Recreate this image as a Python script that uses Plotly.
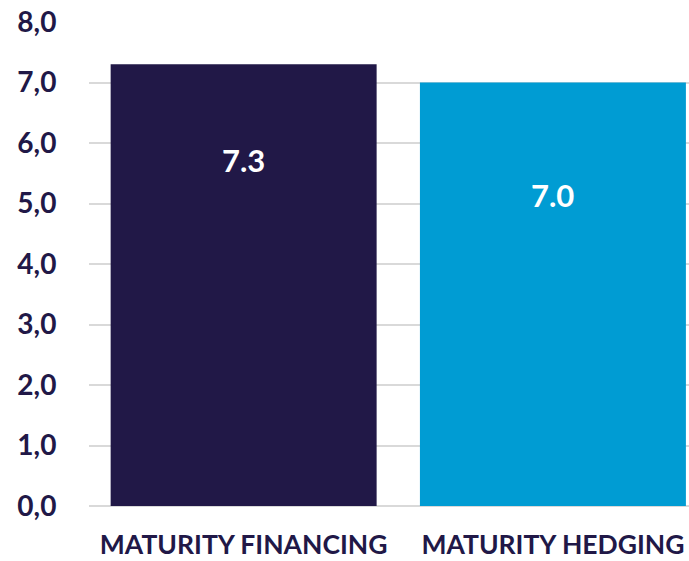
import plotly.graph_objects as go

# Average maturity (years) of financing vs. hedging
categories = ["MATURITY FINANCING", "MATURITY HEDGING"]
values = [7.3, 7.0]
bar_colors = ["#211847", "#009CD3"]
tick_vals = [0, 1, 2, 3, 4, 5, 6, 7, 8]
tick_text = ["0,0", "1,0", "2,0", "3,0", "4,0", "5,0", "6,0", "7,0", "8,0"]
label_drop = [1.58, 1.86]  # how far below each bar top its value label sits

NAVY = "#211847"
FONT = "Lato"
WEIGHT = "bold"

fig = go.Figure(
    go.Bar(
        x=categories,
        y=values,
        marker=dict(color=bar_colors, line=dict(width=0)),
        hoverinfo="skip",
    )
)

for cat, v, d in zip(categories, values, label_drop):
    fig.add_annotation(
        x=cat,
        y=v - d,
        text=f"{v:.1f}",
        showarrow=False,
        font=dict(family=FONT, size=31, color="white", weight=WEIGHT),
        xanchor="center",
        yanchor="middle",
    )

fig.update_layout(
    width=689,
    height=561,
    margin=dict(l=89, r=0, t=22, b=55),
    paper_bgcolor="white",
    plot_bgcolor="white",
    bargap=0.14,
    showlegend=False,
    font=dict(family=FONT, color=NAVY),
    xaxis=dict(
        range=[-0.5, 1.44],
        automargin=False,
        showgrid=False,
        showline=False,
        zeroline=False,
        ticks="outside",
        ticklen=15,
        tickcolor="rgba(0,0,0,0)",
        tickfont=dict(family=FONT, size=26.5, color=NAVY, weight=WEIGHT),
    ),
    yaxis=dict(
        range=[0, 8],
        automargin=False,
        tickvals=tick_vals,
        ticktext=tick_text,
        showgrid=True,
        gridcolor="#D9D9D9",
        gridwidth=2,
        zeroline=True,
        zerolinecolor="#D9D9D9",
        zerolinewidth=2,
        showline=False,
        ticks="outside",
        ticklen=26,
        tickcolor="rgba(0,0,0,0)",
        tickfont=dict(family=FONT, size=28, color=NAVY, weight=WEIGHT),
    ),
)

fig.write_html("out.html")
